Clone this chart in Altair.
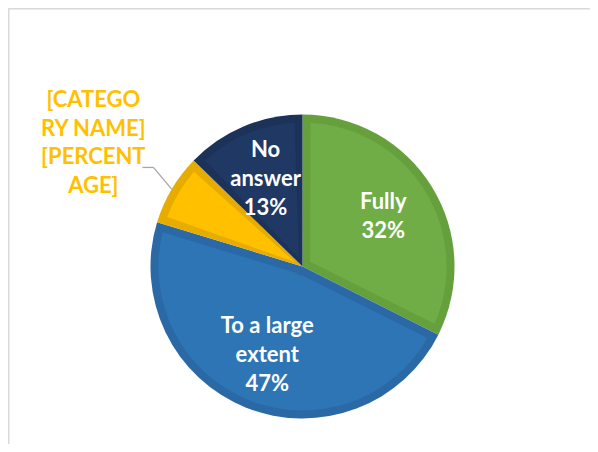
import math
import altair as alt
import pandas as pd

# ---- data ----
categories = ["Fully", "To a large extent", "[CATEGORY NAME]", "No answer"]
values = [32.4, 47.3, 7.6, 12.7]
inner_labels = ["Fully\n32%", "To a large\nextent\n47%", "", "No\nanswer\n13%"]
outer_labels = ["", "", "[CATEGO\nRY NAME]\n[PERCENT\nAGE]", ""]
fill_colors = ["#70AD47", "#2E75B6", "#FFC000", "#203864"]
edge_colors = ["#65A03D", "#2A69A5", "#E6AD00", "#1C3259"]

IN_LH = 29
OUT_LH = 28.5

df = pd.DataFrame({
    "category": categories,
    "value": values,
    "order": list(range(len(categories))),
    "outer": outer_labels,
})
# one text column per line count, so each group can be centred vertically
line_counts = sorted({s.count("\n") + 1 for s in inner_labels if s})
for n in line_counts:
    df[f"in{n}"] = [s if s and s.count("\n") + 1 == n else "" for s in inner_labels]

W, H = 582, 436
CX, CY = 294.5, 258.5
R = 152
BAND = 8

base = alt.Chart(df).encode(
    theta=alt.Theta("value:Q", stack=True),
    order=alt.Order("order:Q"),
    x=alt.value(CX),
    y=alt.value(CY),
)

edge = base.mark_arc(radius=R, radius2=0).encode(
    color=alt.Color("category:N", scale=alt.Scale(domain=categories, range=edge_colors), legend=None)
)
pad_r = math.sqrt((R - BAND) ** 2 + 9 ** 2)
inner = base.mark_arc(radius=R - BAND, radius2=9, padAngle=2 * BAND / pad_r).encode(
    fill=alt.Fill("category:N", scale=alt.Scale(domain=categories, range=fill_colors), legend=None)
)

text_layers = []
for n in line_counts:
    text_layers.append(base.mark_text(
        radius=95, font="Lato", fontWeight="bold", fontSize=22, color="white",
        lineBreak="\n", lineHeight=IN_LH, align="center", baseline="middle",
        dy=-(n - 1) * IN_LH / 2,
    ).encode(text=f"in{n}:N"))

n_out = max(s.count("\n") + 1 for s in outer_labels)
outer_text = base.mark_text(
    radius=243, font="Lato", fontWeight="bold", fontSize=22, color="#FFC000",
    lineBreak="\n", lineHeight=OUT_LH, align="center", baseline="middle",
    dy=-(n_out - 1) * OUT_LH / 2,
).encode(text="outer:N")

# leader line for the small slice, computed from the slice's mid angle
cum = sum(values[:2])
mid = (cum + values[2] / 2) / sum(values) * 2 * math.pi
a2 = mid + math.radians(3)
p1 = (CX + R * math.sin(mid), CY - R * math.cos(mid))
p2 = (CX + (R + 27) * math.sin(a2), CY - (R + 27) * math.cos(a2))
p3 = (p2[0] - 11, p2[1])
leader_df = pd.DataFrame({"x": [p1[0], p2[0]], "y": [p1[1], p2[1]], "x2": [p2[0], p3[0]], "y2": [p2[1], p3[1]]})
leader = alt.Chart(leader_df).mark_rule(color="#A6A6A6", strokeWidth=1.3).encode(
    x=alt.X("x:Q", scale=None), y=alt.Y("y:Q", scale=None),
    x2="x2:Q", y2="y2:Q",
)

frame_top = alt.Chart(pd.DataFrame({"a": [0]})).mark_rule(color="#D9D9D9", strokeWidth=1.5).encode(
    x=alt.value(0), x2=alt.value(W), y=alt.value(0.75)
)
frame_left = alt.Chart(pd.DataFrame({"a": [0]})).mark_rule(color="#D9D9D9", strokeWidth=1.5).encode(
    x=alt.value(0.75), y=alt.value(0), y2=alt.value(H)
)

chart = alt.layer(frame_top, frame_left, edge, inner, leader, *text_layers, outer_text).properties(
    width=W, height=H, padding=0, autosize="none", background="white"
).configure_view(stroke=None).resolve_scale(theta="shared")

chart.save("out.html", embed_options={"renderer": "svg", "actions": False})
